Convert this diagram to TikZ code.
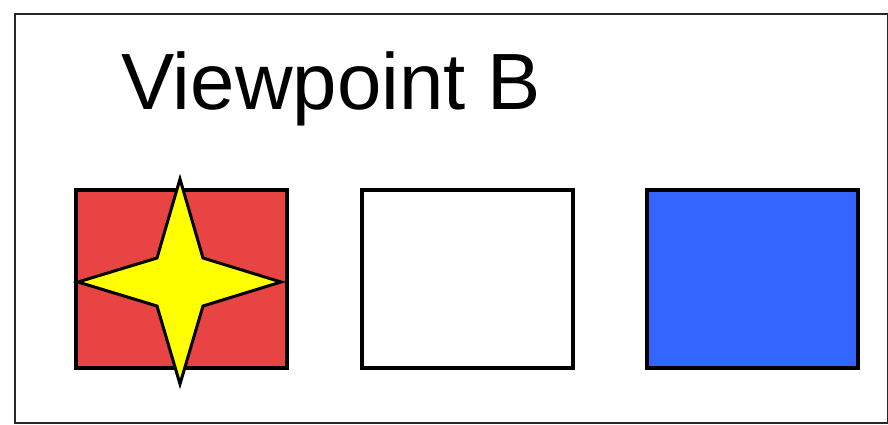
\documentclass[tikz,border=0pt]{standalone}
\usepackage{fontspec}
\setmainfont{Liberation Sans}
\begin{document}
\begin{tikzpicture}[x=1pt,y=-1pt,
  boxstyle/.style={draw=black,line width=4pt,minimum width=211pt,minimum height=178pt,inner sep=0pt,outer sep=0pt},
  framestyle/.style={draw=black!85,line width=2pt,minimum width=873pt,minimum height=409pt,inner sep=0pt},
  starstyle/.style={draw=black,line width=3pt,fill=starYellow,line join=miter,miter limit=20}]
\definecolor{boxRed}{HTML}{E84444}
\definecolor{boxBlue}{HTML}{3366FF}
\definecolor{starYellow}{HTML}{FFFF00}
\useasboundingbox (0,0) rectangle (888,425);
\fill[white] (0,0) rectangle (888,425);
\node[framestyle] (frame) at (451.5,218.5) {};
\node[anchor=base west,inner sep=0pt,font=\fontsize{79.8}{90}\selectfont] (title) at (121,110) {Viewpoint B};
\node[boxstyle,fill=boxRed] (red) at (181.5,278.5) {};
\node[boxstyle,fill=white] (white) at (467,278.5) {};
\node[boxstyle,fill=boxBlue] (blue) at (752,278.5) {};
\draw[starstyle] (180,179) -- (203,258) -- (281,282) -- (203,306) -- (180,384) -- (157,306) -- (78,282) -- (157,258) -- cycle;
\end{tikzpicture}
\end{document}
